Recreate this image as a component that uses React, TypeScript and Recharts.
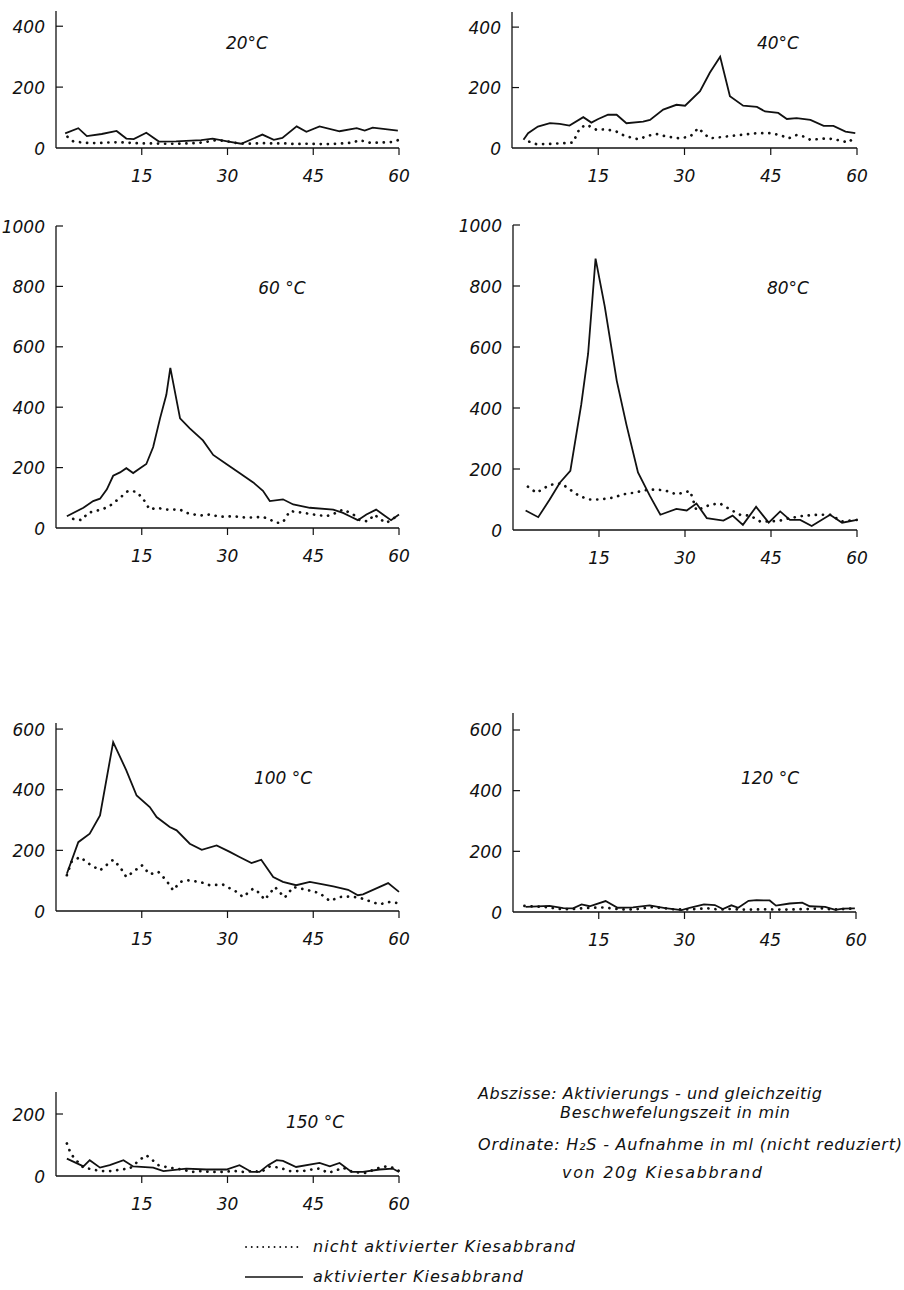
import React from 'react';
import { LineChart, Line, XAxis, YAxis } from 'recharts';

const FONT = '"DejaVu Sans", "Liberation Sans", sans-serif';
const INK = '#111';

// minutes on the x axis, H2S uptake in ml on the y axis
const X_TICKS = [15, 30, 45, 60];

// 20 °C
const t20Act = [1.6, 3.9, 5.4, 8, 10.6, 12.3, 13.6, 15.8, 18, 21, 25.4, 27.4, 30.2, 32.4, 36.1, 38.1, 39.6, 42.1, 43.8, 46.1, 49.6, 52.6, 54, 55.4, 59.8];
const v20Act = [48, 65, 39, 46, 56, 31, 29, 50, 21, 22, 26, 31, 21, 14, 44, 27, 33, 71, 53, 71, 55, 65, 57, 67, 57];
const t20Non = [2, 3, 5, 7, 9, 11, 13, 15, 17, 19, 21, 23, 25, 27, 28, 30, 32, 34, 36, 38, 40, 42, 44, 46, 48, 50, 52, 53, 55, 57, 59, 60];
const v20Non = [37, 22, 17, 16, 18, 19, 17, 15, 15, 14, 14, 15, 17, 22, 26, 22, 15, 14, 16, 15, 15, 13, 14, 13, 13, 15, 18, 26, 17, 18, 20, 27];

// 40 °C
const t40Act = [2, 2.8, 4.5, 6.6, 8.3, 10, 12.4, 13.8, 15, 16.7, 18.2, 19.9, 22.8, 24, 26.3, 28.6, 30.1, 32.7, 34.4, 36.2, 37.9, 40.2, 42.6, 44, 46.3, 47.8, 49.5, 51.9, 54.2, 55.9, 58, 59.7];
const v40Act = [27, 49, 71, 82, 80, 74, 102, 84, 96, 110, 110, 82, 87, 93, 127, 143, 140, 188, 249, 302, 171, 140, 136, 121, 116, 96, 99, 93, 73, 73, 54, 49];
const t40Non = [3, 4.2, 6, 8, 10.6, 11.8, 13, 14.7, 16.4, 18.2, 19.3, 21.1, 22.2, 23.4, 25.2, 26.9, 29.2, 31, 32.4, 33.3, 34.4, 37.3, 39.7, 42.6, 44.9, 46.6, 48.1, 49.5, 50.7, 51.9, 53, 54.8, 56.5, 58.5, 59.7];
const v40Non = [21, 13, 13, 15, 18, 66, 77, 60, 62, 54, 43, 32, 29, 40, 46, 38, 32, 38, 66, 49, 32, 38, 43, 49, 49, 43, 32, 43, 38, 27, 29, 32, 27, 18, 38];

// 60 °C
const t60Act = [1.9, 4.8, 6.5, 7.7, 8.9, 10, 11.2, 12.3, 13.5, 14.7, 15.8, 17, 18.2, 19.3, 20, 21.7, 23.4, 25.7, 27.5, 29.8, 32.1, 34.5, 36.2, 37.4, 39.7, 41.5, 44.4, 48.5, 50.2, 51.4, 52.8, 54.3, 56, 57.2, 58.6, 60];
const v60Act = [39, 67, 89, 97, 128, 173, 184, 198, 182, 198, 212, 268, 363, 441, 530, 363, 330, 290, 242, 212, 182, 151, 123, 89, 95, 78, 67, 61, 50, 39, 26, 45, 61, 45, 26, 45];
const t60Non = [3, 4.5, 5.6, 6.8, 8, 9.4, 11.2, 12.6, 14.1, 15.3, 16.4, 17.6, 19.3, 21.7, 22.8, 25.2, 26.9, 28.7, 31, 33.3, 36.2, 37.4, 38.6, 39.7, 40.9, 42.6, 45, 47.3, 49, 50.2, 52, 53.1, 54.6, 55.7, 56.6, 57.8, 59.2, 60];
const v60Non = [30, 26, 50, 56, 61, 73, 100, 123, 120, 95, 61, 67, 61, 61, 50, 41, 45, 37, 39, 34, 37, 28, 17, 19, 56, 52, 45, 39, 50, 61, 45, 26, 22, 45, 30, 17, 34, 45];

// 80 °C
const t80Act = [2.2, 4.4, 6.4, 8.2, 10, 11.9, 13.1, 14.4, 16, 18.1, 19.8, 21.8, 23.9, 25.7, 28.5, 30.3, 32, 33.8, 36.7, 38.3, 40.1, 42.4, 44.6, 46.6, 48.3, 50.1, 52.1, 55.3, 57.4, 60];
const v80Act = [64, 42, 100, 156, 194, 411, 578, 890, 733, 489, 344, 189, 111, 50, 69, 64, 87, 39, 31, 47, 17, 76, 24, 61, 33, 33, 13, 50, 24, 33];
const t80Non = [2.6, 4.1, 6.4, 8.4, 9.9, 11.6, 13.4, 15.1, 17.5, 19.2, 21, 23.3, 25, 26.8, 28.5, 30.9, 32, 34.4, 36.1, 37.9, 39.6, 41.4, 43.1, 44.8, 46.6, 48.3, 50.7, 53, 55.3, 57.4, 58.8, 60];
const v80Non = [142, 122, 148, 153, 133, 111, 100, 100, 106, 117, 122, 131, 133, 128, 117, 128, 64, 83, 87, 67, 50, 47, 28, 28, 31, 39, 47, 50, 50, 28, 31, 33];

// 100 °C
const t100Act = [1.9, 3.9, 5.9, 7.7, 10, 12.3, 14.1, 16.4, 17.6, 19.9, 21.1, 23.4, 25.5, 28.1, 30.4, 32.1, 34.2, 35.9, 38, 39.7, 42, 44.4, 46.7, 48.5, 51.1, 52.8, 53.7, 58.1, 60];
const v100Act = [123, 227, 255, 315, 557, 464, 381, 343, 310, 277, 266, 222, 202, 216, 195, 178, 158, 169, 112, 96, 85, 96, 88, 81, 70, 52, 55, 92, 63];
const t100Non = [1.9, 2.7, 4.2, 5.9, 7.7, 10, 11.2, 12.3, 13.5, 15, 16.4, 17.9, 19.3, 20.5, 21.7, 23.1, 25.2, 26.9, 29.2, 31.6, 32.7, 34.5, 35.6, 36.5, 38.3, 40, 41.5, 43.8, 46.1, 47.9, 49.6, 51.4, 53.1, 55.4, 56.6, 58.4, 59.8];
const v100Non = [118, 162, 178, 154, 134, 169, 145, 112, 129, 151, 121, 129, 101, 68, 96, 101, 96, 85, 87, 63, 46, 74, 59, 37, 79, 44, 79, 70, 59, 33, 46, 48, 44, 29, 22, 30, 26];

// 120 °C
const t120Act = [2.2, 6.4, 8.8, 10.5, 12, 13.4, 16.2, 18.3, 21, 23.9, 26.6, 29.5, 30.9, 33.4, 35.3, 36.7, 38.2, 39.4, 41.2, 42.6, 44.9, 46, 48.4, 50.6, 51.9, 54.6, 56.4, 57.7, 59.8];
const v120Act = [17, 20, 13, 12, 25, 19, 36, 14, 15, 22, 13, 6, 14, 25, 23, 10, 22, 14, 37, 39, 38, 21, 28, 31, 19, 17, 7, 11, 12];
const t120Non = [2, 4, 6, 8, 10, 12, 14, 16, 18, 20, 22, 24, 26, 28, 30, 32, 34, 36, 38, 40, 42, 44, 46, 48, 50, 52, 54, 56, 58, 60];
const v120Non = [20, 18, 16, 10, 9, 12, 14, 15, 10, 8, 10, 16, 14, 9, 8, 10, 12, 8, 10, 8, 8, 9, 8, 8, 9, 10, 12, 8, 10, 12];

// 150 °C
const t150Act = [1.9, 4.8, 5.9, 7.7, 9.4, 11.8, 13.5, 17, 18.8, 22.8, 26.3, 29.8, 32.1, 34.2, 35.6, 37.1, 38.6, 39.7, 42, 46.1, 47.9, 49.6, 51.7, 53.7, 56.6, 58.9, 60];
const v150Act = [56, 31, 51, 27, 35, 51, 31, 27, 16, 24, 21, 21, 35, 13, 13, 35, 51, 49, 29, 42, 31, 42, 13, 13, 21, 24, 13];
const t150Non = [1.9, 2.4, 3.1, 4.8, 6.2, 7.7, 9.7, 11.5, 12.9, 14.7, 15.8, 16.9, 17.9, 19.3, 20.8, 22.2, 23.7, 25.2, 27.5, 28.9, 31.3, 32.7, 34.5, 35.9, 37.4, 39.1, 40.9, 43.2, 44.7, 46.1, 47.6, 49, 50.2, 51.9, 54.3, 56, 57.8, 58.9, 60];
const v150Non = [105, 81, 59, 27, 22, 16, 16, 21, 24, 53, 67, 51, 35, 29, 24, 21, 13, 16, 13, 13, 16, 13, 16, 13, 31, 27, 16, 16, 21, 24, 10, 18, 27, 13, 10, 24, 31, 27, 16];

type Pt = { t: number; v: number };
const zip = (t: number[], v: number[]): Pt[] => t.map((x, i) => ({ t: x, v: v[i] }));

const PAD_L = 60;
const PAD_T = 10;
const PAD_R = 16;
const PAD_B = 44;

const YTick = (props: any) => {
  const { y, payload } = props;
  return (
    <g>
      {payload.value !== 0 && (
        <line x1={PAD_L} x2={PAD_L + 7} y1={y} y2={y} stroke={INK} strokeWidth={1.2} />
      )}
      <text
        x={PAD_L - 11}
        y={y + 6.5}
        textAnchor="end"
        fontFamily={FONT}
        fontStyle="italic"
        fontSize={17}
        fill={INK}
      >
        {payload.value}
      </text>
    </g>
  );
};

interface PanelProps {
  x0: number;
  yBottom: number;
  plotW: number;
  plotH: number;
  yMax: number;
  yTicks: number[];
  act: Pt[];
  non: Pt[];
}

const Panel = ({ x0, yBottom, plotW, plotH, yMax, yTicks, act, non }: PanelProps) => (
  <div style={{ position: 'absolute', left: x0 - PAD_L, top: yBottom - plotH - PAD_T }}>
    <LineChart
      width={PAD_L + plotW + PAD_R}
      height={PAD_T + plotH + PAD_B}
      margin={{ top: PAD_T, right: PAD_R, left: 0, bottom: 0 }}
    >
      <XAxis
        type="number"
        dataKey="t"
        domain={[0, 60]}
        ticks={X_TICKS}
        height={PAD_B}
        axisLine={{ stroke: INK, strokeWidth: 1.3 }}
        tickLine={{ stroke: INK, strokeWidth: 1.2 }}
        tickSize={7}
        tickMargin={15}
        tick={{ fontSize: 17, fontStyle: 'italic', fill: INK, fontFamily: FONT }}
      />
      <YAxis
        type="number"
        domain={[0, yMax]}
        ticks={yTicks}
        width={PAD_L}
        axisLine={{ stroke: INK, strokeWidth: 1.3 }}
        tickLine={false}
        tick={<YTick />}
      />
      <Line
        data={non}
        dataKey="v"
        type="linear"
        stroke={INK}
        strokeWidth={2.7}
        strokeDasharray="0.1 7"
        strokeLinecap="round"
        dot={false}
        isAnimationActive={false}
      />
      <Line
        data={act}
        dataKey="v"
        type="linear"
        stroke={INK}
        strokeWidth={1.8}
        dot={false}
        isAnimationActive={false}
      />
    </LineChart>
  </div>
);

const txt = { fontFamily: FONT, fontStyle: 'italic' as const, fill: INK };

export default function App() {
  return (
    <div style={{ position: 'absolute', left: 0, top: 0, width: 904, height: 1290, background: '#fff' }}>
      <Panel x0={56} yBottom={148} plotW={343} plotH={137} yMax={450} yTicks={[0, 200, 400]} act={zip(t20Act, v20Act)} non={zip(t20Non, v20Non)} />
      <Panel x0={512} yBottom={148} plotW={345} plotH={136} yMax={450} yTicks={[0, 200, 400]} act={zip(t40Act, v40Act)} non={zip(t40Non, v40Non)} />
      <Panel x0={56} yBottom={528} plotW={343} plotH={302} yMax={1000} yTicks={[0, 200, 400, 600, 800, 1000]} act={zip(t60Act, v60Act)} non={zip(t60Non, v60Non)} />
      <Panel x0={513} yBottom={530} plotW={344} plotH={305} yMax={1000} yTicks={[0, 200, 400, 600, 800, 1000]} act={zip(t80Act, v80Act)} non={zip(t80Non, v80Non)} />
      <Panel x0={56} yBottom={911} plotW={343} plotH={188} yMax={620} yTicks={[0, 200, 400, 600]} act={zip(t100Act, v100Act)} non={zip(t100Non, v100Non)} />
      <Panel x0={513} yBottom={912} plotW={343} plotH={199} yMax={656} yTicks={[0, 200, 400, 600]} act={zip(t120Act, v120Act)} non={zip(t120Non, v120Non)} />
      <Panel x0={56} yBottom={1176} plotW={343} plotH={84} yMax={271} yTicks={[0, 200]} act={zip(t150Act, v150Act)} non={zip(t150Non, v150Non)} />

      <svg width={904} height={1290} style={{ position: 'absolute', left: 0, top: 0, pointerEvents: 'none' }}>
        <g {...txt} fontSize={17} textAnchor="middle">
          <text x={247} y={49}>20°C</text>
          <text x={778} y={49}>40°C</text>
          <text x={282} y={294}>60 °C</text>
          <text x={788} y={294}>80°C</text>
          <text x={283} y={784}>100 °C</text>
          <text x={770} y={784}>120 °C</text>
          <text x={315} y={1128}>150 °C</text>
        </g>
        <g {...txt} fontSize={16}>
          <text x={478} y={1099} textLength={344}>Abszisse: Aktivierungs - und gleichzeitig</text>
          <text x={560} y={1118} textLength={230}>Beschwefelungszeit in min</text>
          <text x={478} y={1150} textLength={424}>Ordinate: H₂S - Aufnahme in ml (nicht reduziert)</text>
          <text x={562} y={1178} textLength={200}>von 20g Kiesabbrand</text>
        </g>
        <line x1={246} x2={298} y1={1247} y2={1247} stroke={INK} strokeWidth={1.8} strokeDasharray="0.1 5.6" strokeLinecap="round" />
        <line x1={245} x2={303} y1={1277} y2={1277} stroke={INK} strokeWidth={1.6} />
        <g {...txt} fontSize={16}>
          <text x={313} y={1252} textLength={262}>nicht aktivierter Kiesabbrand</text>
          <text x={313} y={1282} textLength={210}>aktivierter Kiesabbrand</text>
        </g>
      </svg>
    </div>
  );
}
